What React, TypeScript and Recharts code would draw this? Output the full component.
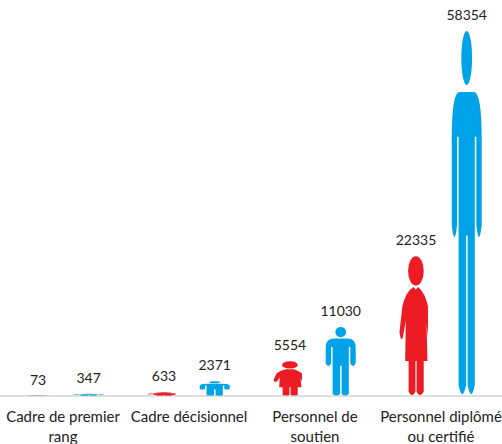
import { BarChart, Bar, XAxis, YAxis, LabelList } from "recharts";

const categories = ["Cadre de premier rang", "Cadre décisionnel", "Personnel de soutien", "Personnel diplômé ou certifié"];
const tickLines: Record<string, string[]> = {
  "Cadre de premier rang": ["Cadre de premier", "rang"],
  "Cadre décisionnel": ["Cadre décisionnel"],
  "Personnel de soutien": ["Personnel de", "soutien"],
  "Personnel diplômé ou certifié": ["Personnel diplômé", "ou certifié"],
};
const femmes = [73, 633, 5554, 22335];
const hommes = [347, 2371, 11030, 58354];

const RED = "#ed1c24";
const BLUE = "#00a2e8";
const FONT = "Lato, Carlito, sans-serif";

const data = categories.map((c, i) => ({ name: c, femmes: femmes[i], hommes: hommes[i] }));

// silhouettes are drawn in a 100x100 box, stretched to the bar
const manBody =
  "M25 16.7 L75 16.7 Q100 17 100 30 L100 53 Q91 60 82 53 L82 29 L77 29 L77 97 Q65 102 53 97 L53 56 L48 56 L48 97 Q35 102 23 97 L23 29 L18 29 L18 53 Q9 60 0 53 L0 30 Q0 17 25 16.7 Z";
const womanBody =
  "M50 22 L57 24 L65 22 Q90 26 100 36 L100 58 L95 48 L98 75 L85 75 L85 97 Q72 102 60 97 L60 75 L56 75 L56 97 Q44 102 32 97 L32 75 L20 75 L22 46 L12 58 Q4 62 0 54 L10 36 Q22 25 50 22 Z";

function Man({ x, y, width, height }: any) {
  return (
    <g transform={`translate(${x} ${y}) scale(${width / 100} ${height / 100})`} fill={BLUE}>
      <ellipse cx={50} cy={7.4} rx={18} ry={7.4} />
      <path d={manBody} />
    </g>
  );
}

function Woman({ x, y, width, height }: any) {
  return (
    <g transform={`translate(${x - 1.5} ${y}) scale(${(width * 0.95) / 100} ${height / 100})`} fill={RED}>
      <ellipse cx={57.6} cy={10.5} rx={27.5} ry={10.5} />
      <path d={womanBody} />
    </g>
  );
}

function CategoryTick({ x, y, payload }: any) {
  const lines = tickLines[payload.value] ?? [payload.value];
  return (
    <text x={x} y={y} textAnchor="middle" fontFamily={FONT} fontSize={15} fill="#222">
      {lines.map((l: string, i: number) => (
        <tspan key={l} x={x} dy={i === 0 ? 18 : 20}>
          {l}
        </tspan>
      ))}
    </text>
  );
}

export default function App() {
  return (
    <div style={{ position: "absolute", left: 0, top: 0, width: 502, height: 444, overflow: "hidden", background: "#fff" }}>
      <BarChart
        width={504}
        height={444}
        data={data}
        margin={{ top: 31, right: 0, left: 0, bottom: 0 }}
        barSize={30}
        barGap={20.7}
      >
        <XAxis
          dataKey="name"
          axisLine={{ stroke: "#bfbfbf", strokeWidth: 1 }}
          tickLine={false}
          height={48}
          interval={0}
          tick={<CategoryTick />}
        />
        <YAxis hide domain={[0, 58354]} />
        <Bar dataKey="femmes" shape={<Woman />} isAnimationActive={false}>
          <LabelList dataKey="femmes" position="top" offset={11} fontFamily={FONT} fontSize={14} fill="#222" />
        </Bar>
        <Bar dataKey="hommes" shape={<Man />} isAnimationActive={false}>
          <LabelList dataKey="hommes" position="top" offset={11} fontFamily={FONT} fontSize={14} fill="#222" />
        </Bar>
      </BarChart>
    </div>
  );
}
